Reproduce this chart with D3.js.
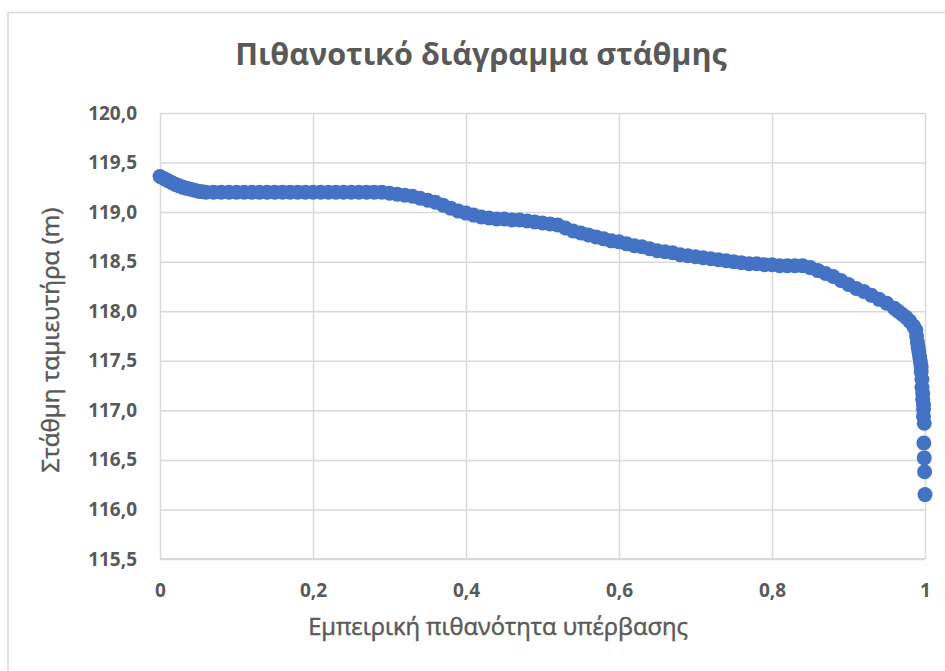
<!DOCTYPE html>
<html>
<head>
<meta charset="utf-8">
<script src="https://cdn.jsdelivr.net/npm/d3@7"></script>
<style>
  html, body { margin: 0; padding: 0; background: #fff; }
  svg { display: block; }
</style>
</head>
<body>
<svg id="chart" width="945" height="671"></svg>
<script>
// ---- Data ----
const chartTitle = "Πιθανοτικό διάγραμμα στάθμης";
const xAxisTitle = "Εμπειρική πιθανότητα υπέρβασης";
const yAxisTitle = "Στάθμη ταμιευτήρα (m)";

const xTickValues = [0, 0.2, 0.4, 0.6, 0.8, 1];
const xTickLabels = ["0", "0,2", "0,4", "0,6", "0,8", "1"];
const yTickValues = [115.5, 116, 116.5, 117, 117.5, 118, 118.5, 119, 119.5, 120];
const yTickLabels = ["115,5", "116,0", "116,5", "117,0", "117,5", "118,0", "118,5", "119,0", "119,5", "120,0"];

const probability = [
  0.00, 0.005, 0.01, 0.015, 0.02, 0.025, 0.03, 0.035, 0.04, 0.045, 0.05, 0.055, 0.06, 0.07, 0.08, 0.09,
  0.10, 0.11, 0.12, 0.13, 0.14, 0.15, 0.16, 0.17, 0.18, 0.19,
  0.20, 0.21, 0.22, 0.23, 0.24, 0.25, 0.26, 0.27, 0.28, 0.29,
  0.30, 0.31, 0.32, 0.33, 0.34, 0.35, 0.36, 0.37, 0.38, 0.39,
  0.40, 0.41, 0.42, 0.43, 0.44, 0.45, 0.46, 0.47, 0.48, 0.49,
  0.50, 0.51, 0.52, 0.53, 0.54, 0.55, 0.56, 0.57, 0.58, 0.59,
  0.60, 0.61, 0.62, 0.63, 0.64, 0.65, 0.66, 0.67, 0.68, 0.69,
  0.70, 0.71, 0.72, 0.73, 0.74, 0.75, 0.76, 0.77, 0.78, 0.79,
  0.80, 0.81, 0.82, 0.83, 0.84, 0.85, 0.86, 0.87, 0.88, 0.89,
  0.90, 0.91, 0.92, 0.93, 0.94, 0.95, 0.96, 0.965, 0.97, 0.975, 0.98,
  0.985, 0.988, 0.989, 0.990, 0.991, 0.992, 0.993, 0.994, 0.995, 0.995,
  0.996, 0.996, 0.997, 0.997, 0.998, 0.998, 0.998, 0.999, 0.9985, 0.999,
  0.9995, 1.000
];
const level = [
  119.36, 119.34, 119.32, 119.30, 119.28, 119.265, 119.25, 119.24, 119.23, 119.22, 119.21, 119.205, 119.20, 119.20, 119.20, 119.20,
  119.20, 119.20, 119.20, 119.20, 119.20, 119.20, 119.20, 119.20, 119.20, 119.20,
  119.20, 119.20, 119.20, 119.20, 119.20, 119.20, 119.20, 119.20, 119.20, 119.20,
  119.19, 119.18, 119.17, 119.16, 119.14, 119.12, 119.10, 119.07, 119.04, 119.01,
  118.99, 118.97, 118.95, 118.94, 118.93, 118.93, 118.92, 118.92, 118.91, 118.90,
  118.89, 118.88, 118.87, 118.84, 118.81, 118.79, 118.77, 118.75, 118.73, 118.71,
  118.70, 118.68, 118.66, 118.65, 118.63, 118.61, 118.60, 118.59, 118.57, 118.56,
  118.55, 118.54, 118.53, 118.52, 118.51, 118.50, 118.49, 118.48, 118.48, 118.47,
  118.47, 118.46, 118.46, 118.46, 118.46, 118.44, 118.41, 118.38, 118.35, 118.31,
  118.27, 118.23, 118.20, 118.16, 118.12, 118.08, 118.03, 118.00, 117.97, 117.94, 117.90,
  117.85, 117.81, 117.75, 117.69, 117.64, 117.59, 117.54, 117.49, 117.44, 117.39,
  117.31, 117.23, 117.17, 117.11, 117.06, 117.01, 116.94, 116.87, 116.67, 116.52,
  116.38, 116.15
];

// ---- Layout ----
const svg = d3.select("#chart");
const plot = { left: 160, right: 925, top: 113, bottom: 559 };
const textColor = "#595959";
const gridColor = "#d9d9d9";
const fontFamily = "'Open Sans', 'Noto Sans', sans-serif";

// chart area border
svg.append("rect")
  .attr("x", 8).attr("y", 12.5)
  .attr("width", 1000).attr("height", 700)
  .attr("fill", "#fff")
  .attr("stroke", gridColor).attr("stroke-width", 1.5);

const x = d3.scaleLinear().domain([0, 1]).range([plot.left, plot.right]);
const y = d3.scaleLinear().domain([115.5, 120]).range([plot.bottom, plot.top]);

// Y axis with horizontal gridlines
const yAxis = d3.axisLeft(y)
  .tickValues(yTickValues)
  .tickFormat((d, i) => yTickLabels[i])
  .tickSize(-(plot.right - plot.left))
  .tickPadding(23);
const gy = svg.append("g").attr("transform", `translate(${plot.left},0)`).call(yAxis);
gy.select(".domain").remove();
gy.selectAll("line").attr("stroke", gridColor).attr("stroke-width", 1.5);
gy.selectAll("text")
  .attr("fill", textColor)
  .style("font-family", fontFamily)
  .style("font-size", "19px")
  .style("font-weight", "700");

// X axis with vertical gridlines
const xAxis = d3.axisBottom(x)
  .tickValues(xTickValues)
  .tickFormat((d, i) => xTickLabels[i])
  .tickSize(-(plot.bottom - plot.top))
  .tickPadding(25);
const gx = svg.append("g").attr("transform", `translate(0,${plot.bottom})`).call(xAxis);
gx.select(".domain").remove();
gx.selectAll("line").attr("stroke", gridColor).attr("stroke-width", 1.5);
gx.selectAll("text")
  .attr("fill", textColor)
  .style("font-family", fontFamily)
  .style("font-size", "19px")
  .style("font-weight", "700");

// bottom axis line
svg.append("line")
  .attr("x1", plot.left).attr("x2", plot.right)
  .attr("y1", plot.bottom).attr("y2", plot.bottom)
  .attr("stroke", gridColor).attr("stroke-width", 2);

// points
const pts = probability.map((p, i) => ({ p, v: level[i] }));
svg.append("g")
  .selectAll("circle")
  .data(pts)
  .join("circle")
  .attr("cx", d => x(d.p))
  .attr("cy", d => y(d.v))
  .attr("r", 7.5)
  .attr("fill", "#4472C4");

// helper to fit text to a target width
function fitText(sel, targetWidth, startSize) {
  sel.style("font-size", startSize + "px");
  const w = sel.node().getComputedTextLength();
  if (w > 0) sel.style("font-size", (startSize * targetWidth / w) + "px");
}

// Title
const title = svg.append("text")
  .attr("x", 481).attr("y", 65)
  .attr("text-anchor", "middle")
  .attr("fill", textColor)
  .style("font-family", fontFamily)
  .style("font-weight", "700")
  .text(chartTitle);
fitText(title, 492, 25);

// X axis title (semibold look)
const xt = svg.append("text")
  .attr("x", 498).attr("y", 635)
  .attr("text-anchor", "middle")
  .attr("fill", textColor)
  .attr("stroke", textColor)
  .attr("stroke-width", 0.5)
  .style("font-family", fontFamily)
  .style("font-weight", "400")
  .text(xAxisTitle);
fitText(xt, 380, 19);

// Y axis title (semibold look)
const yt = svg.append("text")
  .attr("transform", "translate(59,340) rotate(-90)")
  .attr("text-anchor", "middle")
  .attr("fill", textColor)
  .attr("stroke", textColor)
  .attr("stroke-width", 0.5)
  .style("font-family", fontFamily)
  .style("font-weight", "400")
  .text(yAxisTitle);
fitText(yt, 265, 19);
</script>
</body>
</html>
